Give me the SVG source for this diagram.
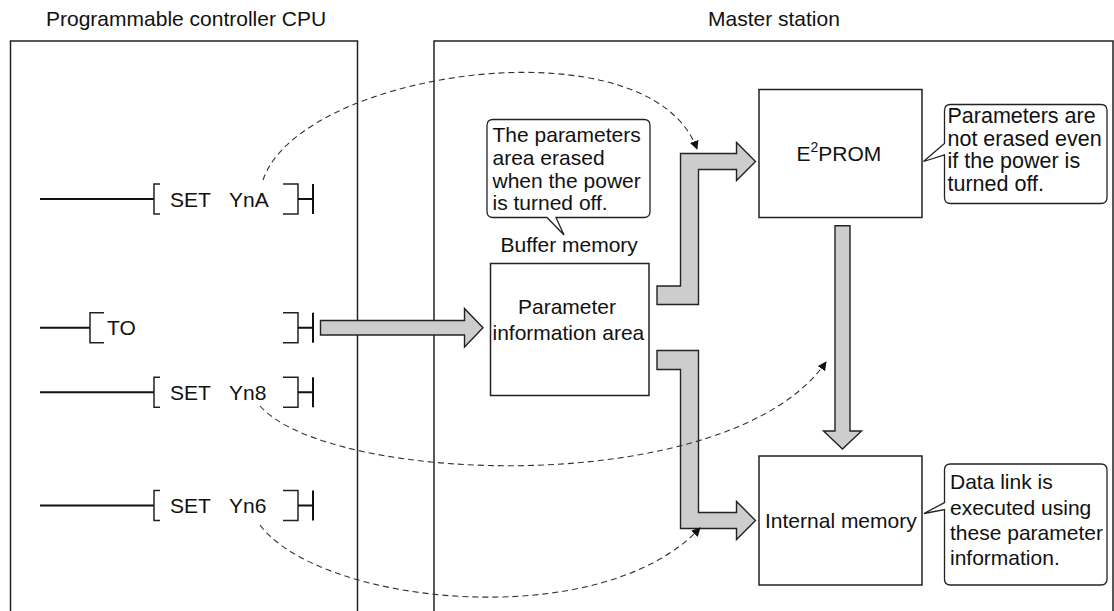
<svg xmlns="http://www.w3.org/2000/svg" width="1114" height="611" viewBox="0 0 1114 611">
<defs>
<style>
.t{font-family:"Liberation Sans",Arial,sans-serif;font-size:21px;fill:#111}
.t22{font-size:21.5px}
.frame{fill:none;stroke:#222;stroke-width:1.5}
.box{fill:#fff;stroke:#222;stroke-width:1.5}
.call{fill:#fff;stroke:#222;stroke-width:1.3}
.wire{fill:none;stroke:#111;stroke-width:2}
.brk{fill:none;stroke:#222;stroke-width:1.5}
.big{fill:#cdcdcd;stroke:#222;stroke-width:1.4;stroke-linejoin:miter}
.dash{fill:none;stroke:#333;stroke-width:1.1;stroke-dasharray:6 4}
</style>
<marker id="ah" viewBox="0 0 10 10" refX="9" refY="5" markerWidth="9" markerHeight="9" markerUnits="userSpaceOnUse" orient="auto">
<path d="M0,0 L10,5 L0,10 Z" fill="#111"/>
</marker>
</defs>

<g id="cpu">
<rect class="frame" x="10.5" y="41" width="347" height="600"/>
<text class="t" x="46" y="26">Programmable controller CPU</text>
</g>

<g id="master">
<rect class="frame" x="434" y="41" width="679" height="600"/>
<text class="t" x="708" y="26">Master station</text>
</g>

<g id="rung-yna">
<path class="wire" d="M40,199 H154"/>
<path class="brk" d="M160,184 H154 V214 H160"/>
<path class="brk" d="M283,184 H298 V214 H283"/>
<path class="wire" d="M298,199 H313 M313,184 V214"/>
<text class="t" x="170" y="207">SET</text>
<text class="t" x="229" y="207">YnA</text>
</g>

<g id="rung-to">
<path class="wire" d="M40,327.7 H90"/>
<path class="brk" d="M104,312.7 H90 V342.7 H104"/>
<path class="brk" d="M283,312.7 H298 V342.7 H283"/>
<path class="wire" d="M298,327.7 H313 M313,312.7 V342.7"/>
<text class="t" x="107" y="335">TO</text>
</g>

<g id="rung-yn8">
<path class="wire" d="M40,392.3 H154"/>
<path class="brk" d="M160,377.3 H154 V407.3 H160"/>
<path class="brk" d="M283,377.3 H298 V407.3 H283"/>
<path class="wire" d="M298,392.3 H313 M313,377.3 V407.3"/>
<text class="t" x="170" y="400">SET</text>
<text class="t" x="229" y="400">Yn8</text>
</g>

<g id="rung-yn6">
<path class="wire" d="M40,505.5 H154"/>
<path class="brk" d="M160,490.5 H154 V520.5 H160"/>
<path class="brk" d="M283,490.5 H298 V520.5 H283"/>
<path class="wire" d="M298,505.5 H313 M313,490.5 V520.5"/>
<text class="t" x="170" y="513">SET</text>
<text class="t" x="229" y="513">Yn6</text>
</g>

<g id="callout-buffer">
<path class="call" d="M493,119.5 H644 Q650,119.5 650,125.5 V211.5 Q650,217.5 644,217.5 H556 L564,235 L547,217.5 H493 Q487,217.5 487,211.5 V125.5 Q487,119.5 493,119.5 Z"/>
<text class="t" x="492.5" y="141.7">The parameters</text>
<text class="t" x="492.5" y="164.7">area erased</text>
<text class="t" x="492.5" y="187.5">when the power</text>
<text class="t" x="492.5" y="210">is turned off.</text>
</g>

<g id="buffer">
<text class="t" x="500.5" y="251.7">Buffer memory</text>
<rect class="box" x="490.5" y="263.5" width="158.5" height="132"/>
<text class="t" x="518" y="314">Parameter</text>
<text class="t" x="492.5" y="339.5">information area</text>
</g>

<g id="eeprom">
<rect class="box" x="759" y="89.5" width="163" height="128"/>
<text class="t" x="796.5" y="161">E<tspan font-size="14" dy="-9">2</tspan><tspan dy="9">PROM</tspan></text>
</g>

<g id="callout-eeprom">
<path class="call" d="M950.5,104.5 H1101 Q1107,104.5 1107,110.5 V197.5 Q1107,203.5 1101,203.5 H950.5 Q944.5,203.5 944.5,197.5 V155 L923.5,161.5 L944.5,143.5 V110.5 Q944.5,104.5 950.5,104.5 Z"/>
<text class="t t22" x="947.5" y="123.3">Parameters are</text>
<text class="t t22" x="947.5" y="145.8">not erased even</text>
<text class="t t22" x="947.5" y="168.3">if the power is</text>
<text class="t t22" x="947.5" y="191">turned off.</text>
</g>

<g id="internal">
<rect class="box" x="759" y="456" width="163" height="129"/>
<text class="t" x="765" y="527.7">Internal memory</text>
</g>

<g id="callout-internal">
<path class="call" d="M950.5,464 H1101 Q1107,464 1107,470 V579 Q1107,585 1101,585 H950.5 Q944.5,585 944.5,579 V509.5 L924,513.5 L944.5,502.5 V470 Q944.5,464 950.5,464 Z"/>
<text class="t" x="950" y="489.3">Data link is</text>
<text class="t" x="950" y="515">executed using</text>
<text class="t" x="950" y="540">these parameter</text>
<text class="t" x="950" y="565">information.</text>
</g>

<g id="connectors">
<path class="big" d="M320.5,320.5 H464.5 V308.5 L483,327.7 L464.5,347 V335 H320.5 Z"/>
<path class="big" d="M657,304.5 V286 H680.5 V153.5 H736.5 V142.5 L755.5,161.5 L736.5,180.5 V169.5 H698.5 V304.5 Z"/>
<path class="big" d="M657,350.5 H698.5 V512.5 H736.5 V501.5 L755.5,520.5 L736.5,539.5 V528.5 H680.5 V369.5 H657 Z"/>
<path class="big" d="M835,225.7 H850 V431 H861.5 L842.5,449 L823.5,431 H835 Z"/>
<path class="dash" d="M263,180 C300,70 650,20 697,149" marker-end="url(#ah)"/>
<path class="dash" d="M260,406 C330,485 730,500 826,362" marker-end="url(#ah)"/>
<path class="dash" d="M260,525 C320,605 600,635 700,528" marker-end="url(#ah)"/>
</g>
</svg>
